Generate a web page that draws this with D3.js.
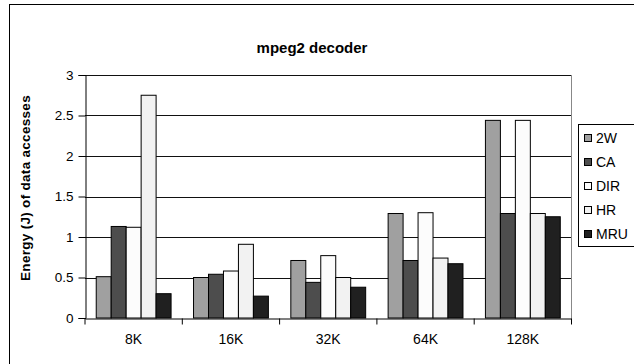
<!DOCTYPE html>
<html>
<head>
<meta charset="utf-8">
<script src="https://cdn.jsdelivr.net/npm/d3@7"></script>
<style>
  body { margin: 0; background: #fff; }
  svg { display: block; font-family: "Liberation Sans", Arial, sans-serif; }
</style>
</head>
<body>
<svg id="chart" width="634" height="364"></svg>
<script>
// chart data
var categories = ["8K", "16K", "32K", "64K", "128K"];
var seriesNames = ["2W", "CA", "DIR", "HR", "MRU"];
var seriesColors = ["#a0a0a0", "#4d4d4d", "#fcfcfc", "#f2f2f2", "#202020"];
var v2W  = [0.51, 0.50, 0.71, 1.29, 2.44];
var vCA  = [1.13, 0.54, 0.44, 0.71, 1.29];
var vDIR = [1.12, 0.58, 0.77, 1.30, 2.44];
var vHR  = [2.75, 0.91, 0.50, 0.74, 1.29];
var vMRU = [0.30, 0.27, 0.38, 0.67, 1.25];
var yTicks = [0, 0.5, 1, 1.5, 2, 2.5, 3];

var values = [v2W, vCA, vDIR, vHR, vMRU];

var svg = d3.select("#chart");
// plot area (note: "top" is a reserved window prop, so use plot* names)
var plotLeft = 85, plotRight = 571.5, plotTop = 75, plotBottom = 318;

// outer frame (runs off the right and bottom edge like the source)
svg.append("rect").attr("x", 9.5).attr("y", 4.5).attr("width", 700).attr("height", 400)
    .attr("fill", "none").attr("stroke", "#000").attr("stroke-width", 1);

var x = d3.scaleBand().domain(categories).range([plotLeft, plotRight]).paddingInner(0).paddingOuter(0);
var x1 = d3.scaleBand().domain(seriesNames).range([0, x.bandwidth()]).paddingInner(0).paddingOuter(0.75);
var y = d3.scaleLinear().domain([0, 3]).range([plotBottom, plotTop]);

// gridlines
svg.append("g").selectAll("line").data(yTicks.slice(1)).join("line")
    .attr("x1", plotLeft).attr("x2", plotRight)
    .attr("y1", d => Math.round(y(d)) + 0.5).attr("y2", d => Math.round(y(d)) + 0.5)
    .attr("stroke", "#111").attr("stroke-width", 1);

// right plot border
svg.append("line").attr("x1", plotRight).attr("x2", plotRight).attr("y1", plotTop).attr("y2", plotBottom)
    .attr("stroke", "#888").attr("stroke-width", 1);

// bars
var groups = svg.append("g").selectAll("g").data(categories).join("g")
    .attr("transform", d => "translate(" + x(d) + ",0)");
groups.selectAll("rect").data((c, i) => seriesNames.map((s, j) => ({ s: s, j: j, v: values[j][i] })))
    .join("rect")
    .attr("x", d => x1(d.s))
    .attr("y", d => y(d.v))
    .attr("width", x1.bandwidth())
    .attr("height", d => plotBottom - y(d.v))
    .attr("fill", d => seriesColors[d.j])
    .attr("stroke", "#000").attr("stroke-width", 1);

// y axis
var yAxis = svg.append("g").attr("transform", "translate(" + (plotLeft + 0.5) + ",0)")
    .call(d3.axisLeft(y).tickValues(yTicks).tickFormat(d => String(d)).tickSize(7).tickPadding(5));
yAxis.select(".domain").attr("stroke", "#000");
yAxis.selectAll("text").attr("font-size", "13.5px").attr("fill", "#000")
    .attr("font-family", "Liberation Sans, Arial, sans-serif");

// x axis
var xAxis = svg.append("g").attr("transform", "translate(0," + (plotBottom + 0.5) + ")")
    .call(d3.axisBottom(x).tickSize(0).tickPadding(16));
xAxis.select(".domain").attr("stroke", "#000");
xAxis.selectAll("text").attr("font-size", "14px").attr("fill", "#000")
    .attr("font-family", "Liberation Sans, Arial, sans-serif");
// boundary ticks between categories
xAxis.selectAll(".sep").data(categories.concat([null])).join("line").attr("class", "sep")
    .attr("x1", (d, i) => plotLeft + i * x.step()).attr("x2", (d, i) => plotLeft + i * x.step())
    .attr("y1", 0).attr("y2", 6).attr("stroke", "#000");

// title
svg.append("text").attr("x", 312).attr("y", 53).attr("text-anchor", "middle")
    .attr("font-size", "15px").attr("font-weight", "bold").text("mpeg2 decoder");

// y axis title
svg.append("text").attr("transform", "translate(30,188) rotate(-90)")
    .attr("text-anchor", "middle").attr("font-size", "13.5px").attr("font-weight", "bold")
    .attr("letter-spacing", "0.3px")
    .text("Energy (J) of data accesses");

// legend
var legend = svg.append("g");
legend.append("rect").attr("x", 578.5).attr("y", 124.5).attr("width", 80).attr("height", 122)
    .attr("fill", "#fff").attr("stroke", "#000");
var items = legend.selectAll("g").data(seriesNames).join("g")
    .attr("transform", (d, i) => "translate(584," + (138 + i * 24) + ")");
items.append("rect").attr("x", 0.5).attr("y", -3.5).attr("width", 7).attr("height", 7)
    .attr("fill", (d, i) => seriesColors[i]).attr("stroke", "#000");
items.append("text").attr("x", 12).attr("y", 5).attr("font-size", "14px").text(d => d);
</script>
</body>
</html>
